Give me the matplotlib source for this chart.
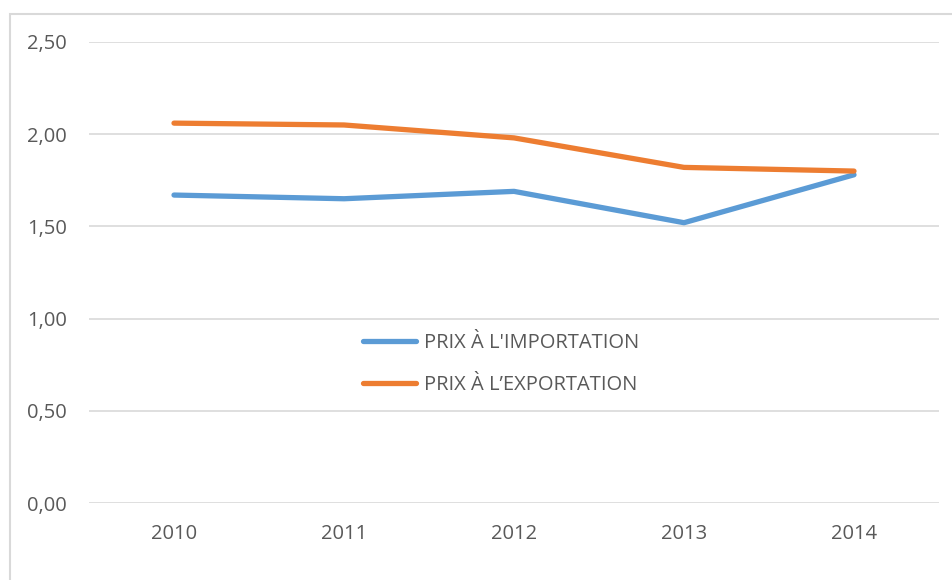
import matplotlib.pyplot as plt
from matplotlib.patches import Rectangle

# Data
years = ['2010', '2011', '2012', '2013', '2014']
prix_import = [1.67, 1.65, 1.69, 1.52, 1.78]
prix_export = [2.06, 2.05, 1.98, 1.82, 1.80]
yticks = [0.0, 0.5, 1.0, 1.5, 2.0, 2.5]

text_color = '#595959'
plt.rcParams['font.family'] = ['Open Sans', 'DejaVu Sans']

fig = plt.figure(figsize=(9.52, 5.8), dpi=100)
ax = fig.add_axes([89 / 952, 1 - 503 / 580, 850 / 952, 461 / 580])

# Outer chart frame (only left and top edges visible)
fig.patches.append(Rectangle((10 / 952, -0.1), 1.2, 1 - 14 / 580 + 0.1,
                             transform=fig.transFigure, fill=False,
                             edgecolor='#D9D9D9', linewidth=1.5))

x = range(len(years))
ax.plot(x, prix_import, color='#5B9BD5', linewidth=3.8,
        solid_capstyle='round', label="PRIX À L'IMPORTATION")
ax.plot(x, prix_export, color='#ED7D31', linewidth=3.8,
        solid_capstyle='round', label='PRIX À L\u2019EXPORTATION')

ax.set_xlim(-0.5, len(years) - 0.5)
ax.set_ylim(0, 2.5)
ax.set_xticks(list(x))
ax.set_xticklabels(years)
ax.set_yticks(yticks)
ax.set_yticklabels([f'{v:.2f}'.replace('.', ',') for v in yticks])
ax.tick_params(length=0, labelsize=14.5, colors=text_color)
ax.tick_params(axis='x', pad=15)
ax.tick_params(axis='y', pad=16)

ax.grid(axis='y', color='#D9D9D9', linewidth=1.2)
ax.set_axisbelow(True)
for s in ax.spines.values():
    s.set_visible(False)

leg = ax.legend(loc='center', bbox_to_anchor=(0.485, 0.302), frameon=False,
                fontsize=14.5, handlelength=2.6, handletextpad=0.4,
                labelspacing=1.1)
for t in leg.get_texts():
    t.set_color(text_color)

fig.savefig('out.png', dpi=100)
